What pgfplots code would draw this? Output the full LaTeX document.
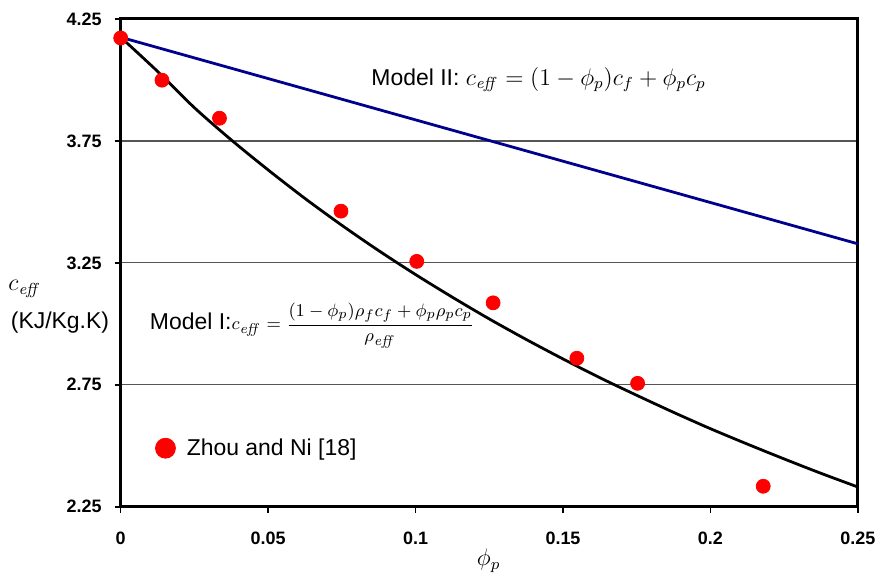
\documentclass[border=0pt]{standalone}
\usepackage{pgfplots}
\pgfplotsset{compat=1.18}
\usepackage[no-math]{fontspec}
\setmainfont{Liberation Sans}
\definecolor{navyline}{RGB}{0,0,140}
\definecolor{gridgray}{RGB}{85,85,85}

% measured data (Zhou and Ni)
\pgfplotstableread{
phi    c
0      4.172
0.0140 3.999
0.0335 3.843
0.0747 3.462
0.1004 3.256
0.1263 3.086
0.1547 2.859
0.1753 2.756
0.2179 2.334
}\zhou

% Model I curve
\pgfplotstableread{
phi     c
0       4.175
0.0125  4.035
0.025   3.886
0.0375  3.754
0.05    3.631
0.0625  3.514
0.075   3.404
0.0875  3.300
0.1     3.202
0.1125  3.109
0.125   3.020
0.1375  2.936
0.15    2.856
0.1625  2.779
0.175   2.707
0.1875  2.637
0.2     2.570
0.2125  2.507
0.225   2.446
0.2375  2.387
0.25    2.331
}\modelone

\begin{document}
\begin{tikzpicture}
\begin{axis}[
  scale only axis, width=369.5pt, height=244.5pt,
  xmin=0, xmax=0.25, ymin=2.25, ymax=4.25,
  xtick={0,0.05,0.1,0.15,0.2,0.25},
  xticklabels={0,0.05,0.1,0.15,0.2,0.25},
  ytick={2.25,2.75,3.25,3.75,4.25},
  yticklabels={2.25,2.75,3.25,3.75,4.25},
  axis line style={line width=1.5pt},
  tick style={black, line width=0.8pt},
  tick align=outside, major tick length=3pt,
  xtick pos=bottom, ytick pos=left,
  ymajorgrids, grid style={gridgray, line width=0.6pt},
  ticklabel style={font=\fontsize{9}{10}\selectfont\bfseries},
  xticklabel style={yshift=-6pt}, yticklabel style={xshift=-3pt},
  clip=false,
  legend style={at={(axis cs:0.0095,2.49)}, anchor=west, draw=none, fill=none,
    font=\fontsize{11.5}{12}\selectfont},
  legend image code/.code={\fill[red] (0pt,0pt) circle (5pt); \path (8.5pt,0pt);},
]
\addplot[navyline, line width=1.4pt, forget plot] coordinates {(0,4.175) (0.25,3.328)};
\addplot[black, line width=1.4pt, smooth, forget plot] table[x=phi, y=c] {\modelone};
\addplot[only marks, mark=*, mark size=3.5pt, color=red] table[x=phi, y=c] {\zhou};
\legend{Zhou and Ni [18]}

\node[anchor=west, inner sep=0pt, font=\fontsize{11.5}{12}\selectfont] at (axis cs:0.0849,4.002)
  {Model II: $c_{\mathit{eff}} = (1-\phi_p)c_f + \phi_p c_p$};
\node[anchor=west, inner sep=0pt, font=\fontsize{11.5}{12}\selectfont] at (axis cs:0.0098,2.994)
  {Model I:{\fontsize{9.5}{10}\selectfont$\displaystyle c_{\mathit{eff}} = \frac{(1-\phi_p)\rho_f c_f + \phi_p\rho_p c_p}{\rho_{\mathit{eff}}}$}};
\node[font=\fontsize{12}{12}\selectfont] at (axis cs:-0.0325,3.144) {$c_{\mathit{eff}}$};
\node[font=\fontsize{11.5}{12}\selectfont] at (axis cs:-0.0206,3.006) {(KJ/Kg.K)};
\node[font=\fontsize{12}{12}\selectfont] at (axis cs:0.1248,2.029) {$\phi_p$};
\coordinate (bl) at (rel axis cs:0,0);
\coordinate (tr) at (rel axis cs:1,1);
\end{axis}
\path ([xshift=-60.5pt,yshift=-32.5pt]bl) rectangle ([xshift=11pt,yshift=9.5pt]tr);
\end{tikzpicture}
\end{document}
